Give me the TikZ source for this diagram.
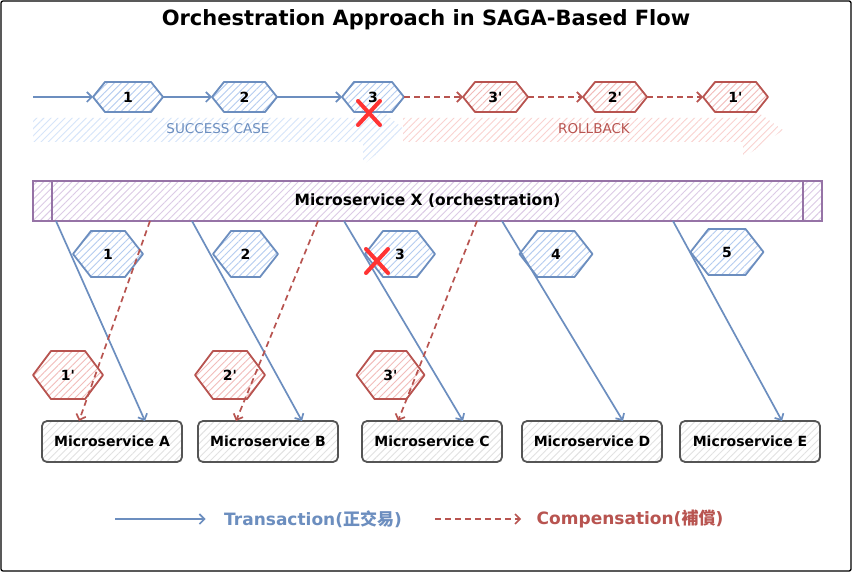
\documentclass[tikz,border=0pt]{standalone}
\usepackage{fontspec}
\newfontfamily\df{DejaVu Sans}
\newfontfamily\cjk{Noto Sans CJK TC}
\usetikzlibrary{arrows.meta,patterns.meta}
\definecolor{bstroke}{HTML}{6C8EBF}
\definecolor{bhatch}{HTML}{B4CCF0}
\definecolor{rstroke}{HTML}{B85450}
\definecolor{rhatch}{HTML}{F2BCBA}
\definecolor{pstroke}{HTML}{9673A6}
\definecolor{phatch}{HTML}{DCCBE6}
\definecolor{gstroke}{HTML}{555555}
\definecolor{ghatch}{HTML}{E2E2E2}
\definecolor{xred}{HTML}{FF3333}
\definecolor{bigb}{HTML}{D6E5FA}
\definecolor{bigr}{HTML}{FAD2D0}
\pgfdeclarelayer{back}
\pgfdeclarelayer{bg}
\pgfsetlayers{back,bg,main}
\tikzset{
  tx/.style={draw=bstroke, line width=1.7pt, -{Straight Barb[length=5pt,width=10pt]}},
  cp/.style={draw=rstroke, line width=1.7pt, dash pattern=on 6pt off 4pt, -{Straight Barb[length=5pt,width=10pt]}},
  hexlbl/.style={inner sep=0pt, outer sep=0pt, font=\df\bfseries\fontsize{14}{16}\selectfont},
  hatch/.style={pattern={Lines[angle=45,distance=5pt,line width=0.9pt]}, pattern color=#1},
  svc/.style={draw=gstroke, line width=1.8pt, rounded corners=5pt, minimum width=140, minimum height=41, inner sep=0pt, outer sep=0pt, hatch=ghatch, font=\df\bfseries\fontsize{14}{16}\selectfont},
  bar/.style={draw=pstroke, line width=1.8pt, minimum width=789, minimum height=40, inner sep=0pt, outer sep=0pt, hatch=phatch, font=\df\bfseries\fontsize{15.5}{18}\selectfont},
  xm/.style={draw=xred, line width=4pt, line cap=round},
  xnode/.style={inner sep=0pt, outer sep=0pt, minimum width=22, minimum height=24}
}
\newcommand\hexa[8]{%
  \node[hexlbl, minimum width=#3, minimum height=#4] (#1) at (#2) {#8};
  \begin{pgfonlayer}{bg}
  \draw[draw=#6, line width=1.8pt, line join=round, hatch=#7]
    (#1.west) -- ([xshift=#5]#1.north west) -- ([xshift=-#5]#1.north east) -- (#1.east)
    -- ([xshift=-#5]#1.south east) -- ([xshift=#5]#1.south west) -- cycle;
  \end{pgfonlayer}}
\newcommand\xcross[1]{\draw[xm] (#1.north west) -- (#1.south east) (#1.north east) -- (#1.south west);}
\begin{document}
\begin{tikzpicture}[x=1pt,y=-1pt]
\useasboundingbox (0,0) rectangle (852,572);
\begin{pgfonlayer}{back}
\fill[white] (0,0) rectangle (852,572);
\draw[black, line width=1.3pt, rounded corners=2pt] (1,1) rectangle (851,571);
% big hatched arrows
\fill[hatch=bigb] (33,118) -- (363,118) -- (363,95) -- (405,130) -- (363,165) -- (363,142) -- (33,142) -- cycle;
\fill[hatch=bigr] (403,118) -- (743,118) -- (743,102) -- (783,130) -- (743,158) -- (743,142) -- (403,142) -- cycle;
\end{pgfonlayer}

% title
\node[font=\df\bfseries\fontsize{21}{24}\selectfont] (title) at (426,20) {Orchestration Approach in SAGA-Based Flow};

\node[font=\df\fontsize{13.5}{15}\selectfont, text=bstroke] (succ) at (218,129) {SUCCESS CASE};
\node[font=\df\fontsize{13.5}{15}\selectfont, text=rstroke] (roll) at (594,129) {ROLLBACK};

% top row
\hexa{h1}{128,97}{70}{30}{12}{bstroke}{bhatch}{1}
\hexa{h2}{244.5,97}{65}{30}{12}{bstroke}{bhatch}{2}
\hexa{h3}{373,97}{62}{30}{12}{bstroke}{bhatch}{3}
\hexa{h3p}{495.5,97}{65}{30}{12}{rstroke}{rhatch}{3'}
\hexa{h2p}{615,97}{64}{30}{12}{rstroke}{rhatch}{2'}
\hexa{h1p}{735.5,97}{65}{30}{12}{rstroke}{rhatch}{1'}
\coordinate (s0) at (33,97);
\draw[tx] (s0) -- (h1.west);
\draw[tx] (h1.east) -- (h2.west);
\draw[tx] (h2.east) -- (h3.west);
\draw[cp] (h3.east) -- (h3p.west);
\draw[cp] (h3p.east) -- (h2p.west);
\draw[cp] (h2p.east) -- (h1p.west);
\node[xnode] (x1) at (369,113) {};
\xcross{x1}

% orchestrator bar
\node[bar] (X) at (427.5,201) {Microservice X (orchestration)};
\draw[pstroke, line width=1.8pt] ([xshift=19]X.north west) -- ([xshift=19]X.south west);
\draw[pstroke, line width=1.8pt] ([xshift=-19]X.north east) -- ([xshift=-19]X.south east);

% services
\node[svc] (A) at (112,441.5) {Microservice A};
\node[svc] (B) at (268,441.5) {Microservice B};
\node[svc] (C) at (432,441.5) {Microservice C};
\node[svc] (D) at (592,441.5) {Microservice D};
\node[svc] (E) at (750,441.5) {Microservice E};

% step hexagons
\hexa{b1}{108,254}{70}{46}{18}{bstroke}{bhatch}{1}
\hexa{b2}{245.5,254}{65}{46}{18}{bstroke}{bhatch}{2}
\hexa{b3}{400,254}{70}{46}{18}{bstroke}{bhatch}{3}
\hexa{b4}{556,254}{73}{46}{18}{bstroke}{bhatch}{4}
\hexa{b5}{727,252}{73}{46}{18}{bstroke}{bhatch}{5}
\hexa{r1}{68,375}{70}{48}{18}{rstroke}{rhatch}{1'}
\hexa{r2}{230,375}{70}{48}{18}{rstroke}{rhatch}{2'}
\hexa{r3}{390.5,375}{68}{48}{18}{rstroke}{rhatch}{3'}

% transactions
\draw[tx] ([xshift=23]X.south west) -- ([xshift=33]A.north);
\draw[tx] ([xshift=159]X.south west) -- ([xshift=34]B.north);
\draw[tx] ([xshift=311]X.south west) -- ([xshift=31]C.north);
\draw[tx] ([xshift=469]X.south west) -- ([xshift=31]D.north);
\draw[tx] ([xshift=640]X.south west) -- ([xshift=32]E.north);
% compensations
\draw[cp] ([xshift=117]X.south west) -- ([xshift=-33]A.north);
\draw[cp] ([xshift=285]X.south west) -- ([xshift=-32]B.north);
\draw[cp] ([xshift=444]X.south west) -- ([xshift=-34]C.north);

\node[xnode] (x2) at (377,261) {};
\xcross{x2}

% legend
\node[font=\df\bfseries\fontsize{17}{20}\selectfont, text=bstroke] (lt) at (313,519) {Transaction(\cjk 正交易\df)};
\node[font=\df\bfseries\fontsize{17}{20}\selectfont, text=rstroke] (lc) at (630,519) {Compensation(\cjk 補償\df)};
\coordinate (la) at (115,519);
\coordinate (lb) at (435,519);
\draw[tx] (la) -- ([xshift=-15]lt.west);
\draw[cp] (lb) -- ([xshift=-12]lc.west);
\end{tikzpicture}
\end{document}
